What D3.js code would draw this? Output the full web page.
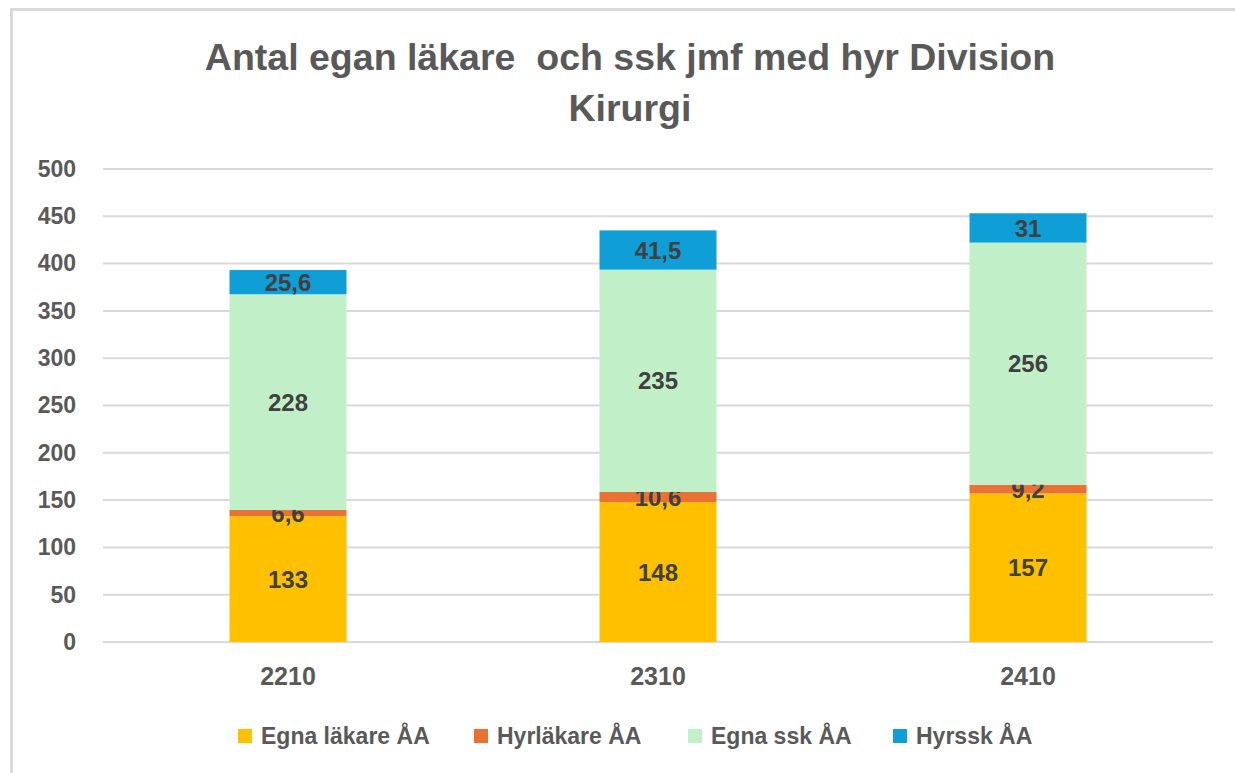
<!DOCTYPE html>
<html>
<head>
    <script src="https://cdn.jsdelivr.net/npm/d3@7"></script>
    <style>
        body { margin: 0; background: #fff; }
        #my-svg { width: 1235px; height: 773px; display: block; }
    </style>
</head>
<body>

<svg id="my-svg"></svg>

<script>
    // data
    const categories = ["2210", "2310", "2410"];
    const seriesNames = ["Egna läkare ÅA", "Hyrläkare ÅA", "Egna ssk ÅA", "Hyrssk ÅA"];
    const egnaLakare = [133, 148, 157];
    const hyrLakare = [6.6, 10.6, 9.2];
    const egnaSsk = [228, 235, 256];
    const hyrSsk = [25.6, 41.5, 31];
    const yTicks = [0, 50, 100, 150, 200, 250, 300, 350, 400, 450, 500];
    const colors = ["#FFC000", "#E97132", "#C1F0C8", "#0F9ED5"];

    const width = 1235, height = 773;
    const plot = { left: 103, right: 1213, top: 169, bottom: 642 };

    const svg = d3.select("#my-svg");
    const font = "'Liberation Sans', Arial, sans-serif";

    // outer frame (only top and left visible)
    svg.append("line").attr("x1", 11).attr("x2", width).attr("y1", 9.5).attr("y2", 9.5)
        .attr("stroke", "#d9d9d9").attr("stroke-width", 3);
    svg.append("line").attr("x1", 11.5).attr("x2", 11.5).attr("y1", 8).attr("y2", height)
        .attr("stroke", "#d9d9d9").attr("stroke-width", 3);

    // title (keeps the double space of the original)
    const title = svg.append("text")
        .attr("text-anchor", "middle")
        .attr("font-family", font)
        .attr("font-weight", "bold")
        .attr("font-size", 37.5)
        .attr("fill", "#595959")
        .style("white-space", "pre");
    title.append("tspan").attr("x", 630).attr("y", 70).text("Antal egan läkare  och ssk jmf med hyr Division");
    title.append("tspan").attr("x", 630).attr("y", 121).text("Kirurgi");

    const x = d3.scaleBand().domain(categories).range([plot.left, plot.right]).paddingInner(0).paddingOuter(0);
    const y = d3.scaleLinear().domain([0, 500]).range([plot.bottom, plot.top]);
    const barW = 117;

    // gridlines
    svg.append("g").selectAll("line")
        .data(yTicks)
        .join("line")
        .attr("x1", plot.left).attr("x2", plot.right)
        .attr("y1", d => y(d)).attr("y2", d => y(d))
        .attr("stroke", "#d9d9d9").attr("stroke-width", 2);

    // y axis labels
    const yAxis = svg.append("g")
        .attr("transform", `translate(${plot.left},0)`)
        .call(d3.axisLeft(y).tickValues(yTicks).tickSize(0).tickPadding(27));
    yAxis.select(".domain").remove();
    yAxis.selectAll("text")
        .attr("font-family", font).attr("font-weight", "bold")
        .attr("font-size", 23).attr("fill", "#595959");

    // x axis labels
    const xAxis = svg.append("g")
        .attr("transform", `translate(0,${plot.bottom})`)
        .call(d3.axisBottom(x).tickSize(0).tickPadding(25));
    xAxis.select(".domain").remove();
    xAxis.selectAll("text")
        .attr("font-family", font).attr("font-weight", "bold")
        .attr("font-size", 25).attr("fill", "#595959");

    // stacked data
    const table = categories.map((c, i) => ({
        cat: c, s0: egnaLakare[i], s1: hyrLakare[i], s2: egnaSsk[i], s3: hyrSsk[i]
    }));
    const stack = d3.stack().keys(["s0", "s1", "s2", "s3"])(table);

    const layers = svg.append("g").selectAll("g")
        .data(stack)
        .join("g")
        .attr("fill", (d, i) => colors[i]);

    layers.selectAll("rect")
        .data(d => d)
        .join("rect")
        .attr("x", d => x(d.data.cat) + x.bandwidth() / 2 - barW / 2)
        .attr("width", barW)
        .attr("y", d => y(d[1]))
        .attr("height", d => y(d[0]) - y(d[1]));

    // value labels
    const fmt = v => String(v).replace(".", ",");
    layers.each(function (layer) {
        d3.select(this).selectAll("text")
            .data(layer)
            .join("text")
            .attr("x", d => x(d.data.cat) + x.bandwidth() / 2)
            .attr("y", d => (y(d[0]) + y(d[1])) / 2)
            .attr("dy", "0.36em")
            .attr("text-anchor", "middle")
            .attr("font-family", font).attr("font-weight", "bold")
            .attr("font-size", 24).attr("fill", "#404040")
            .text(d => fmt(d.data[layer.key]));
    });

    // legend
    const legendX = [238, 474, 688, 893];
    const legend = svg.append("g").selectAll("g")
        .data(seriesNames)
        .join("g")
        .attr("transform", (d, i) => `translate(${legendX[i]},736)`);
    legend.append("rect")
        .attr("x", 0).attr("y", -7).attr("width", 14).attr("height", 14)
        .attr("fill", (d, i) => colors[i]);
    legend.append("text")
        .attr("x", 23).attr("y", 0).attr("dy", "0.36em")
        .attr("font-family", font).attr("font-weight", "bold")
        .attr("font-size", 23).attr("fill", "#595959")
        .text(d => d);
</script>
</body>
</html>
